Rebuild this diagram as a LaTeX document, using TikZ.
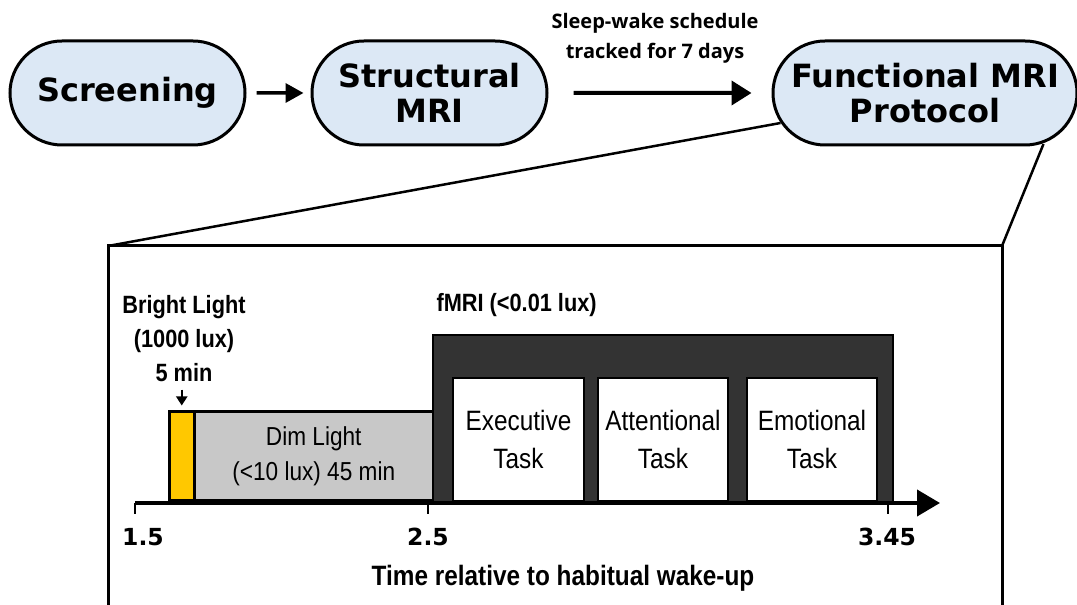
\documentclass[tikz,border=0pt]{standalone}
\usepackage{fontspec}
\usetikzlibrary{arrows.meta,positioning,calc,shapes.misc}
\newfontfamily\verdfont{DejaVu Sans}
\newfontfamily\notefont{Open Sans}
\newfontfamily\arialfont{Liberation Sans}[FakeStretch=0.87]
\definecolor{boxblue}{RGB}{220,232,245}
\definecolor{brightyellow}{RGB}{255,200,0}
\definecolor{dimgray}{RGB}{200,200,200}
\definecolor{scangray}{RGB}{51,51,51}

\tikzset{
  flowbox/.style={draw, line width=3pt, fill=boxblue, rounded rectangle,
    inner xsep=0pt,
    minimum width=235pt, minimum height=104pt, align=center,
    font=\verdfont\bfseries\fontsize{32}{35}\selectfont},
  bar/.style={draw, line width=2.5pt, anchor=south west, inner sep=0pt},
  taskbox/.style={bar, fill=white, line width=2pt, minimum width=131pt,
    minimum height=123pt, align=center, font=\arialfont\fontsize{28}{38}\selectfont},
  ticklbl/.style={font=\verdfont\bfseries\fontsize{23.5}{26}\selectfont}
}

\begin{document}
\begin{tikzpicture}[x=1pt,y=1pt]
\useasboundingbox (0,0) rectangle (1077,605);

\node[flowbox] (screen) at (127.5,512) {Screening};
\node[flowbox] (struct) at (429.5,512) {Structural\\MRI};
\node[flowbox, minimum width=304pt] (fmri) at (925,512) {Functional MRI\\Protocol};

\draw[line width=3.5pt, -{Triangle[length=18pt,width=19pt]}, shorten <=10pt, shorten >=7pt]
  (screen) -- (struct);
\draw[line width=4pt, -{Triangle[length=20pt,width=24pt]}, shorten <=25pt, shorten >=20pt]
  (struct) -- node[midway, xshift=-5pt, yshift=55pt, align=center,
    font=\notefont\bfseries\fontsize{20}{30}\selectfont] (sleep)
    {Sleep-wake schedule\\tracked for 7 days} (fmri);

% zoomed protocol
\coordinate (zl) at (108,359);
\coordinate (zr) at (1002,359);
\draw[line width=2.5pt] ($(fmri.west)+(9,-30)$) -- (zl);
\draw[line width=2.5pt] ($(fmri.east)+(-35,-51)$) -- (zr);
\draw[line width=3pt] (108,-10) -- (zl) -- (zr) -- (1002,-10);

\node[bar, fill=brightyellow, minimum width=25pt, minimum height=89pt] (bright) at (168,103) {};
\node[bar, fill=dimgray, minimum width=239pt, minimum height=89pt, align=center,
  font=\arialfont\fontsize{26}{35}\selectfont] (dim) at (193,103) {Dim Light\\(<10 lux) 45 min};
\node[bar, fill=scangray, line width=1.5pt, minimum width=460pt, minimum height=167pt] (scan) at (432,102) {};
\node[taskbox] (exec) at (452,103) {Executive\\Task};
\node[taskbox, minimum width=130pt] (attn) at (597,103) {Attentional\\Task};
\node[taskbox, minimum width=130pt] (emo) at (746,103) {Emotional\\Task};

\node[align=center, font=\arialfont\bfseries\fontsize{25}{34}\selectfont] (brightlbl) at (184,266)
  {Bright Light\\(1000 lux)\\5 min};
\node[anchor=west, font=\arialfont\bfseries\fontsize{25}{28}\selectfont] (scanlbl) at (433,300)
  {fMRI (<0.01 lux)};
\draw[line width=2pt, -{Triangle[length=9pt,width=11pt]}, shorten <=4pt, shorten >=5pt]
  (brightlbl.south -| bright.north) -- (bright.north);

% time axis
\coordinate (axstart) at (135,102);
\coordinate (axend) at (940,102);
\draw[line width=4pt, -{Triangle[length=23pt,width=26pt]}] (axstart) -- (axend);
\foreach \x/\lx/\t [count=\i] in {135/143/1.5, 428/428/2.5, 888/887/3.45} {
  \draw[line width=2pt] (\x,102) -- (\x,91);
  \node[ticklbl] (tick\i) at (\lx,68) {\t};
}
\node[font=\arialfont\bfseries\fontsize{28}{30}\selectfont] (timelbl) at (563,27)
  {Time relative to habitual wake-up};
\end{tikzpicture}
\end{document}
